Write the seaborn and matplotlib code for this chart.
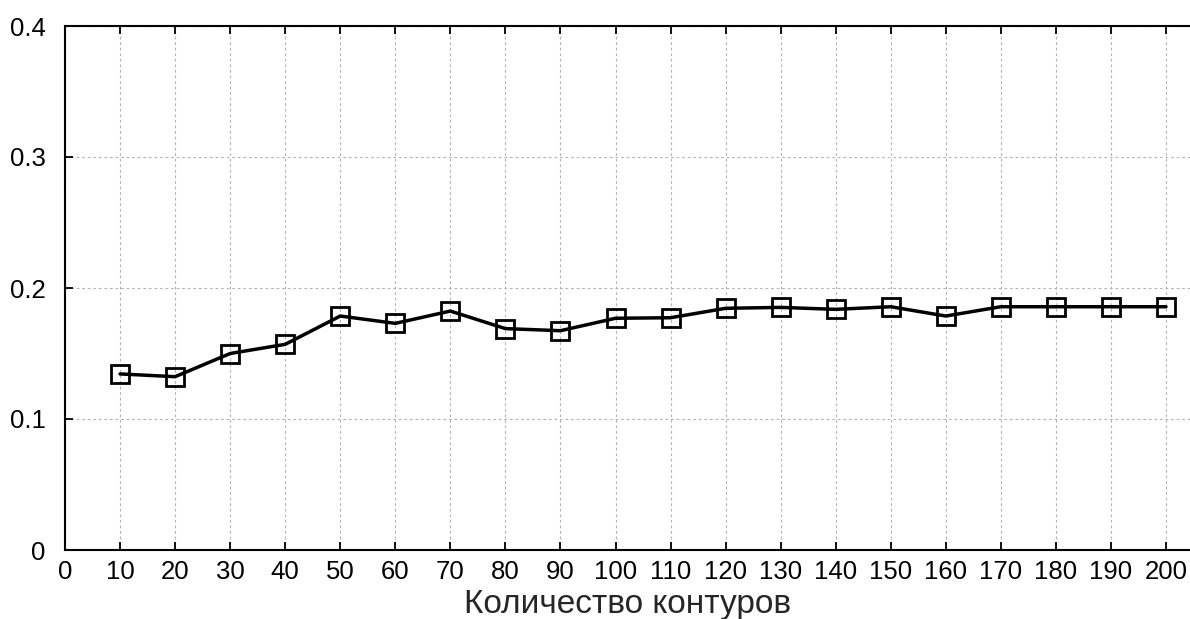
import matplotlib
matplotlib.use("Agg")
import matplotlib.pyplot as plt
import seaborn as sns
import pandas as pd

contours = [10, 20, 30, 40, 50, 60, 70, 80, 90, 100, 110, 120, 130, 140, 150, 160, 170, 180, 190, 200]
values = [0.1344, 0.1323, 0.150, 0.157, 0.1786, 0.173, 0.1824, 0.169, 0.1674, 0.1769,
          0.1773, 0.1845, 0.1852, 0.1837, 0.1857, 0.1786, 0.1857, 0.1857, 0.1857, 0.1857]
x_ticks = list(range(0, 201, 10))
y_ticks = [0, 0.1, 0.2, 0.3, 0.4]
y_tick_labels = ["0", "0.1", "0.2", "0.3", "0.4"]
x_label = "Количество контуров"

sns.set_style("ticks")
plt.rcParams['font.family'] = ['Liberation Sans', 'DejaVu Sans']

df = pd.DataFrame({"x": contours, "y": values})

fig = plt.figure(figsize=(11.9, 6.19), dpi=100)
ax = fig.add_axes([65 / 1190, 69 / 619, 1 - 65 / 1190, (550 - 26) / 619])

sns.lineplot(data=df, x="x", y="y", ax=ax, color="black", linewidth=2.5,
             marker="s", markersize=12.5, markerfacecolor="none",
             markeredgecolor="black", markeredgewidth=2.0)

ax.set_xlim(0, (1190 - 65) / 5.505)
ax.set_ylim(0, 0.4)
ax.set_xticks(x_ticks)
ax.set_xticklabels([str(t) for t in x_ticks])
ax.set_yticks(y_ticks)
ax.set_yticklabels(y_tick_labels)
ax.grid(True, linestyle=(0, (2.5, 2.5)), color="#b4b4b4", linewidth=0.8)
ax.set_axisbelow(True)

ax.tick_params(axis="both", direction="in", length=6, width=1.3, labelsize=18.5,
               colors="black", top=True, bottom=True, left=True, right=False)
ax.tick_params(axis="x", pad=7)
ax.tick_params(axis="y", pad=14)
for s in ["left", "bottom", "top"]:
    ax.spines[s].set_linewidth(1.5)
    ax.spines[s].set_color("black")
ax.spines["right"].set_visible(False)

ax.set_xlabel(x_label, fontsize=24, labelpad=4)
ax.set_ylabel("")

fig.savefig("out.png", dpi=100)
